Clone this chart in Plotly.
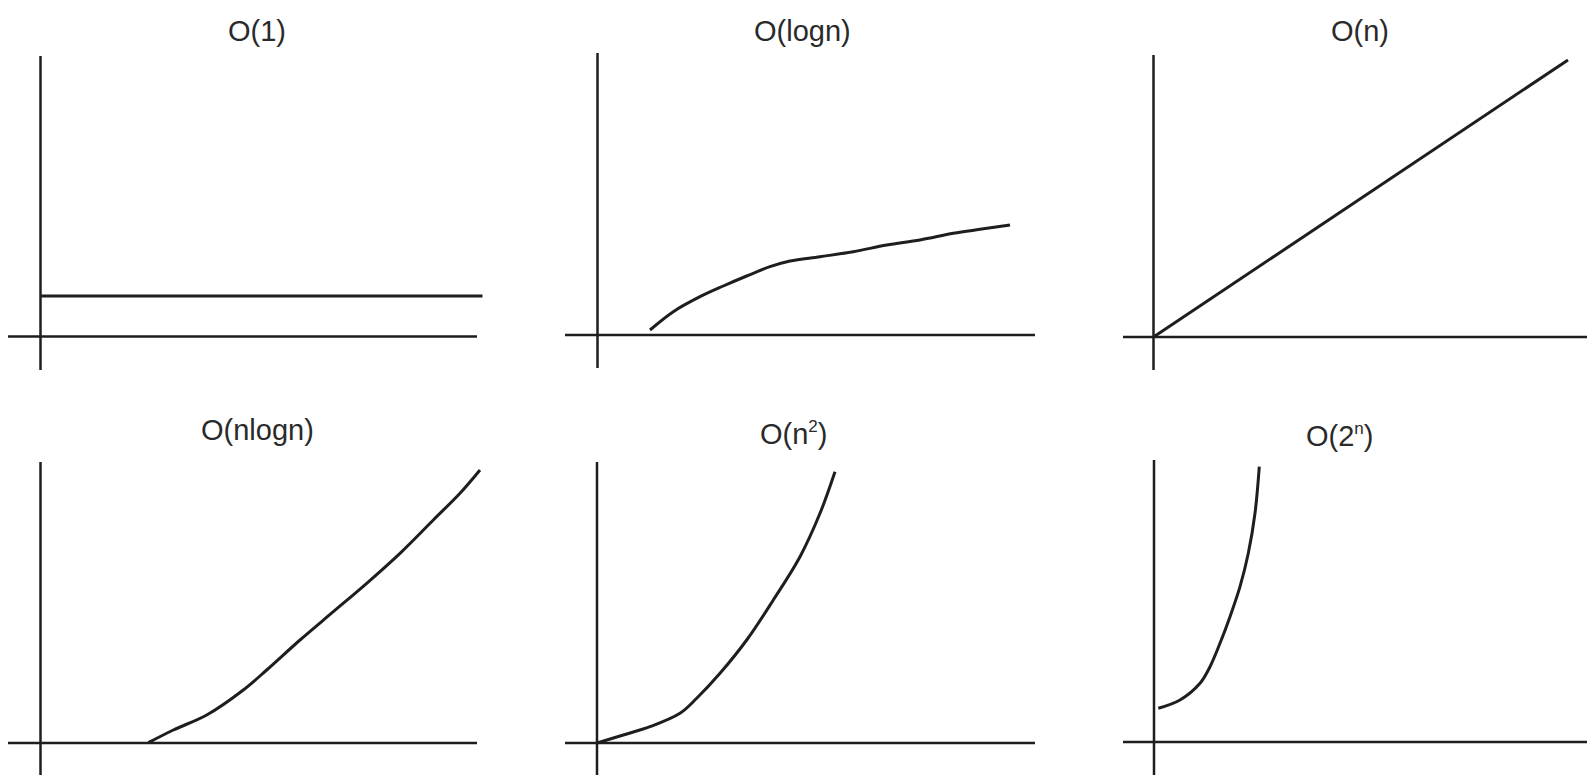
import plotly.graph_objects as go

W, H = 1587, 775
UNIT = 10.0  # pixels per data unit

# ---- curve data (n on x, running time on y) ----
SUP = '<sup><span style="font-size:17px">{}</span></sup>'
titles = ["O(1)", "O(logn)", "O(n)", "O(nlogn)",
          "O(n" + SUP.format("2") + ")", "O(2" + SUP.format("n") + ")"]

const_x = [0.0, 44.2]
const_y = [4.05, 4.05]

log_x = [5.25, 7.58, 10.25, 12.58, 14.92, 17.25, 19.25, 22.25, 25.58, 28.92, 32.25, 35.58, 38.25, 41.25]
log_y = [0.5, 2.33, 3.83, 4.9, 5.9, 6.83, 7.4, 7.83, 8.33, 9.0, 9.5, 10.17, 10.57, 11.0]

lin_x = [0.0, 41.45]
lin_y = [0.0, 27.7]

nlog_x = [10.78, 13.28, 16.62, 20.28, 22.62, 25.95, 29.28, 32.62, 35.95, 39.28, 41.95, 43.95]
nlog_y = [0.03, 1.3, 2.8, 5.3, 7.3, 10.3, 13.13, 15.97, 18.97, 22.3, 24.97, 27.3]

sq_x = [0.0, 2.63, 5.3, 8.3, 9.97, 12.3, 14.97, 17.63, 20.3, 22.3, 23.8]
sq_y = [0.0, 0.8, 1.63, 2.97, 4.47, 6.97, 10.3, 14.3, 18.63, 22.97, 27.13]

exp_x = [0.43, 2.6, 4.6, 5.6, 6.6, 7.6, 8.6, 9.43, 10.1, 10.53]
exp_y = [3.37, 4.2, 5.87, 7.53, 9.87, 12.53, 15.53, 18.87, 22.87, 27.53]

series = [
    (const_x, const_y),
    (log_x, log_y),
    (lin_x, lin_y),
    (nlog_x, nlog_y),
    (sq_x, sq_y),
    (exp_x, exp_y),
]

# ---- panel geometry in pixels: origin, horizontal axis extent, vertical axis extent ----
panels = [
    dict(origin=(40.5, 336.5), hx=(8, 477), vy=(56, 370), title=(257, 31)),
    dict(origin=(597.5, 335.0), hx=(565, 1035), vy=(53, 368), title=(802, 31)),
    dict(origin=(1153.5, 337.0), hx=(1123, 1587), vy=(55, 370), title=(1360, 31)),
    dict(origin=(40.5, 743.0), hx=(8, 477), vy=(462, 775), title=(257, 430)),
    dict(origin=(597.0, 743.0), hx=(565, 1035), vy=(462, 775), title=(793, 433)),
    dict(origin=(1154.0, 742.0), hx=(1123, 1587), vy=(460, 775), title=(1339, 435)),
]

INK = "#1e1e1e"
fig = go.Figure()
layout = dict(
    width=W, height=H,
    margin=dict(l=0, r=0, t=0, b=0),
    paper_bgcolor="white", plot_bgcolor="white",
    showlegend=False,
)
shapes = []
annotations = []
PAD = 12

for i, (p, (xs, ys), title) in enumerate(zip(panels, series, titles), start=1):
    ox, oy = p["origin"]
    left = max(0, p["hx"][0] - PAD)
    right = min(W, p["hx"][1] + PAD)
    top = max(0, p["vy"][0] - PAD)
    bottom = min(H, p["vy"][1] + PAD)
    xa = "xaxis" if i == 1 else f"xaxis{i}"
    ya = "yaxis" if i == 1 else f"yaxis{i}"
    xr = "x" if i == 1 else f"x{i}"
    yr = "y" if i == 1 else f"y{i}"
    layout[xa] = dict(
        domain=[left / W, right / W],
        range=[(left - ox) / UNIT, (right - ox) / UNIT],
        visible=False, anchor=yr, fixedrange=True,
    )
    layout[ya] = dict(
        domain=[1 - bottom / H, 1 - top / H],
        range=[(oy - bottom) / UNIT, (oy - top) / UNIT],
        visible=False, anchor=xr, fixedrange=True,
    )
    # coordinate axes
    shapes.append(dict(type="line", xref=xr, yref=yr,
                       x0=(p["hx"][0] - ox) / UNIT, x1=(p["hx"][1] - ox) / UNIT,
                       y0=0, y1=0, line=dict(color=INK, width=2.5)))
    shapes.append(dict(type="line", xref=xr, yref=yr,
                       x0=0, x1=0,
                       y0=(oy - p["vy"][1]) / UNIT, y1=(oy - p["vy"][0]) / UNIT,
                       line=dict(color=INK, width=2.5)))
    fig.add_trace(go.Scatter(
        x=xs, y=ys, mode="lines", xaxis=xr, yaxis=yr,
        line=dict(color=INK, width=3, shape="spline", smoothing=1.0),
        hoverinfo="skip",
    ))
    tx, ty = p["title"]
    annotations.append(dict(
        text=title, x=tx / W, y=1 - ty / H, xref="paper", yref="paper",
        xanchor="center", yanchor="middle", showarrow=False,
        font=dict(family="Liberation Sans, Arial, sans-serif", size=29, color="#2a2a2a"),
    ))

layout["shapes"] = shapes
layout["annotations"] = annotations
fig.update_layout(**layout)
fig.write_html("out.html")
